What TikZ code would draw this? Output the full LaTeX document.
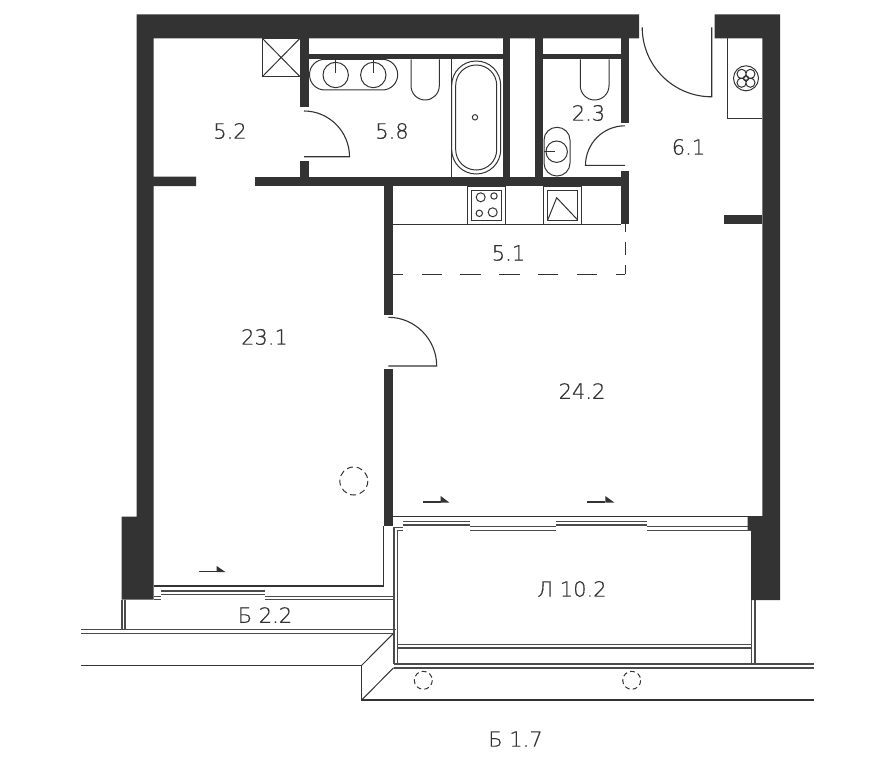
\documentclass[tikz,border=0pt]{standalone}
\usepackage{fontspec}
\newfontfamily\lblfont{DejaVu Sans ExtraLight}[FakeBold=0.6]
\definecolor{wallc}{HTML}{333333}
\tikzset{
  wall/.style={fill=wallc,draw=none},
  thin/.style={draw=wallc,line width=1.1pt},
  fine/.style={draw=wallc,line width=1pt},
  glass/.style={draw=wallc!88,line width=1.15pt},
  dashc/.style={draw=wallc,line width=1pt,dash pattern=on 6pt off 3.8pt},
  dashs/.style={draw=wallc,line width=1pt,dash pattern=on 4.9pt off 3.2pt},
  lbl/.style={text=wallc,font=\lblfont\fontsize{21}{21}\selectfont,inner sep=0pt},
  arrowtip/.style={fill=wallc,draw=none}
}
\begin{document}
\begin{tikzpicture}[x=1pt,y=-1pt]
\useasboundingbox (0,0) rectangle (895,768);
% walls
\fill[wall] (136.5,14.3) -- (639,14.3) -- (639,38.3) -- (153.5,38.3) -- (153.5,176.7) -- (196,176.7) -- (196,186) -- (153.5,186) -- (153.5,586) -- (153.5,599.5) -- (121.7,599.5) -- (121.7,516.5) -- (136.5,516.5) -- cycle;
\fill[wall] (255,176.7) rectangle (629.3,186);
\fill[wall] (300,38) rectangle (309,106.7);
\fill[wall] (300,161) rectangle (309,177);
\fill[wall] (309,54.3) rectangle (502.7,59.3);
\fill[wall] (502.7,38) rectangle (510,177);
\fill[wall] (535.3,38) rectangle (543.3,177);
\fill[wall] (543.3,54.3) rectangle (620.5,59.3);
\fill[wall] (620.5,38) rectangle (629.3,122.7);
\fill[wall] (620.5,170.7) rectangle (629.3,224);
\fill[wall] (714.7,14.3) -- (780,14.3) -- (780,600) -- (751.2,600) -- (751.2,530.5) -- (747.7,530.5) -- (747.7,516) -- (762.3,516) -- (762.3,38.3) -- (714.7,38.3) -- cycle;
\fill[wall] (724,215) rectangle (762.3,224);
\fill[wall] (383.7,186) rectangle (393.3,315);
\fill[wall] (383.7,369.3) rectangle (393.3,526);
% doors
\draw[thin] (304,111) .. controls (329.1,111) and (349.5,131.6) .. (349.5,156.7) -- (304,156.7);
\draw[thin] (388.3,317.3) .. controls (414.9,317.3) and (436.7,339.1) .. (436.7,366) -- (388.3,366);
\draw[thin] (625,125.8) .. controls (603.2,125.8) and (585.5,143.5) .. (585.5,165.3) -- (625,165.3);
\draw[thin] (642.2,27.3) .. controls (642.2,65.7) and (673.3,96.8) .. (711.7,96.8) -- (711.7,27.3);
% vent shaft
\draw[fine] (262.3,38.3) rectangle (300,76.7);
\draw[fine] (262.3,38.3) -- (300,76.7) (300,38.3) -- (262.3,76.7);
% washbasins
\draw[fine,rounded corners=15.3pt] (309.5,59.3) rectangle (397.7,90);
\draw[fine] (335.7,75) circle (12.7) (373.3,75) circle (12.7);
\draw[fine] (335.7,59.3) -- (335.7,72.7) (373.3,59.3) -- (373.3,72.7);
% toilets
\draw[fine] (411,59.3) -- (411,85.7) .. controls (411,93.6) and (417.3,100) .. (425.2,100) .. controls (433,100) and (439.3,93.6) .. (439.3,85.7) -- (439.3,59.3);
\draw[fine] (580.3,59.3) -- (580.3,85.7) .. controls (580.3,93.6) and (586.7,100) .. (594.6,100) .. controls (602.5,100) and (609,93.6) .. (609,85.7) -- (609,59.3);
% bath
\draw[fine] (451.7,59.3) -- (451.7,177);
\draw[fine,rounded corners=24.4pt] (451.7,61) rectangle (500.7,174);
\draw[fine,rounded corners=20.4pt] (455.7,65) rectangle (496.7,170);
\draw[fine] (475,117.3) circle (2.7);
% small sink
\draw[fine,rounded corners=12.9pt] (544,127.3) rectangle (570,176);
\draw[fine] (556.7,151.7) circle (10.7);
\draw[fine] (544,151.7) -- (555,151.7);
% kitchen
\draw[fine] (393.3,224) -- (620.5,224);
\draw[fine] (467.7,186) rectangle (505.3,224);
\draw[fine] (471.7,190) rectangle (501.7,220);
\draw[fine] (480.7,197.3) circle (4.5) (494,196) circle (3.2) (479.3,213.3) circle (3.2) (492.7,212.3) circle (4.5);
\draw[fine] (543.7,186) rectangle (581.3,224);
\draw[fine] (547.7,190) rectangle (577.7,220);
\draw[fine] (547.7,220) -- (556.7,197.7) -- (577.7,220);
% zone dashed
\draw[fine,dash pattern=on 20.5pt off 18.3pt,dash phase=11pt] (625,274) -- (393.3,274);
\draw[fine,dash pattern=on 13pt off 10pt,dash phase=4pt] (625,274) -- (625,224);
% fan
\draw[fine] (727.7,38.3) -- (727.7,118.3) -- (762.3,118.3);
\draw[fine] (746,78.3) circle (12.5) (746,78.3) circle (2.6);
\draw[fine] (741.6,73.9) circle (4.6) (750.4,73.9) circle (4.6) (741.6,82.7) circle (4.6) (750.4,82.7) circle (4.6);
% room 23.1 glazing
\draw[thin] (153.5,586) -- (383.5,586) -- (383.5,526);
\draw[glass] (161,591) -- (265,591) (161,594.3) -- (265,594.3);
\draw[glass] (265,596.7) -- (393.5,596.7) (265,599.6) -- (393.5,599.6);
\draw[glass] (153.5,596.7) -- (161,596.7) (153.5,599.6) -- (161,599.6);
% small balcony
\draw[glass] (122,600) -- (122,629.3) (125,600) -- (125,629.3);
\draw[glass] (81,629.3) -- (395.5,629.3) (81,633.3) -- (393.5,633.3);
\draw[thin] (81,665.3) -- (361.7,665.3) -- (361.7,700) -- (814,700);
\draw[fine] (361.7,665.3) -- (393.5,633.3) (361.7,700) -- (393.5,667.8);
% loggia
\draw[glass] (394,664) -- (394,527.7) -- (402.7,527.7) (397.3,664) -- (397.3,530.7) -- (402.7,530.7);
\draw[thin] (393.3,516.3) -- (747.7,516.3);
\draw[glass] (403.3,521.7) -- (470,521.7) (403.3,525) -- (470,525);
\draw[glass] (470,526.7) -- (556,526.7) (470,530.7) -- (556,530.7);
\draw[glass] (556,521.7) -- (646.7,521.7) (556,525) -- (646.7,525);
\draw[glass] (646.7,526.7) -- (748,526.7) (646.7,530.7) -- (751,530.7);
\draw[glass] (751.7,600) -- (751.7,664) (755,600) -- (755,664);
\draw[glass] (394,664) -- (814,664) (394,668) -- (814,668);
\draw[glass] (397.3,644.7) -- (751.7,644.7) (397.3,648) -- (751.7,648);
% columns
\draw[dashc] (353.8,481) circle (14);
\draw[dashs] (423.3,680.3) circle (9);
\draw[dashs] (631.7,680.3) circle (9);
% sliding arrows
\draw[thin] (199,571.7) -- (216.7,571.7);
\fill[arrowtip] (216.7,566) -- (225.7,572.2) -- (216.7,572.2) -- cycle;
\draw[thin] (422.7,502) -- (440.7,502);
\fill[arrowtip] (440.7,496) -- (449.3,502.5) -- (440.7,502.5) -- cycle;
\draw[thin] (587.3,502) -- (605.3,502);
\fill[arrowtip] (605.3,496) -- (614.3,502.5) -- (605.3,502.5) -- cycle;
% labels
\node[lbl] (r1) at (230,131) {5.2};
\node[lbl] (r2) at (392,131) {5.8};
\node[lbl] (r3) at (588.5,113) {2.3};
\node[lbl] (r4) at (688.5,147) {6.1};
\node[lbl] (r5) at (508.5,253) {5.1};
\node[lbl] (r6) at (264.5,337) {23.1};
\node[lbl] (r7) at (582,391) {24.2};
\node[lbl] (r8) at (265,615) {Б 2.2};
\node[lbl] (r9) at (572,589) {Л 10.2};
\node[lbl] (r10) at (515.5,739) {Б 1.7};
\end{tikzpicture}
\end{document}
